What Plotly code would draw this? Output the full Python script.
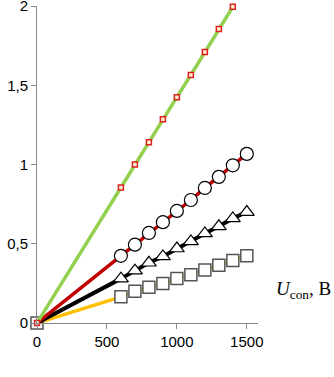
import plotly.graph_objects as go

# Data
U = [600, 700, 800, 900, 1000, 1100, 1200, 1300, 1400, 1500]
U_green = [600, 700, 800, 900, 1000, 1100, 1200, 1300, 1400]
green_vals = [0.855, 1.0, 1.14, 1.285, 1.425, 1.565, 1.71, 1.855, 1.995]
circle_vals = [0.424, 0.494, 0.568, 0.636, 0.707, 0.776, 0.852, 0.922, 0.995, 1.067]
triangle_vals = [0.28, 0.33, 0.38, 0.42, 0.47, 0.515, 0.565, 0.61, 0.66, 0.70]
square_vals = [0.165, 0.20, 0.225, 0.25, 0.28, 0.305, 0.335, 0.365, 0.395, 0.425]
x_ticks = [0, 500, 1000, 1500]
y_ticks = [0, 0.5, 1, 1.5, 2]
y_labels = ["0", "0,5", "1", "1,5", "2"]

fig = go.Figure()

def series(xs, ys, color, lw, symbol, size, fill, lcolor, lwm, origin_marker=False, seg_w=None):
    fig.add_trace(go.Scatter(x=[0, xs[0]], y=[0, ys[0]], mode="lines",
                             line=dict(color=color, width=lw), showlegend=False,
                             hoverinfo="skip", cliponaxis=False))
    fig.add_trace(go.Scatter(x=xs, y=ys, mode="lines+markers",
                             line=dict(color=color, width=seg_w if seg_w else lw),
                             marker=dict(symbol=symbol, size=size, color=fill,
                                         line=dict(color=lcolor, width=lwm)),
                             showlegend=False, cliponaxis=False))
    if origin_marker:
        fig.add_trace(go.Scatter(x=[0], y=[0], mode="markers",
                                 marker=dict(symbol=symbol, size=size, color="rgba(0,0,0,0)",
                                             line=dict(color=lcolor, width=lwm)),
                                 showlegend=False, cliponaxis=False))

series(U, square_vals, "#FFC000", 3.5, "square", 12, "white", "#555555", 1.5,
       origin_marker=True, seg_w=2)
series(U, triangle_vals, "black", 4, "triangle-up", 13, "white", "black", 1.2)
series(U, circle_vals, "#C00000", 3.5, "circle", 13, "white", "black", 1.2)
series(U_green, green_vals, "#92D050", 3.5, "square", 5, "#FFF2CC", "#E02020", 1.5)
fig.add_trace(go.Scatter(x=[0], y=[0], mode="markers",
                         marker=dict(symbol="square", size=5, color="#FFF2CC",
                                     line=dict(color="#E02020", width=1.5)),
                         showlegend=False, cliponaxis=False))

fig.update_layout(
    width=334, height=377,
    margin=dict(l=37, r=76, t=6, b=54),
    plot_bgcolor="white", paper_bgcolor="white",
    font=dict(family="Liberation Sans, Arial", size=15, color="black"),
    xaxis=dict(range=[0, 1580], tickvals=x_ticks, showgrid=False, zeroline=False,
               showline=True, linecolor="#888888", linewidth=1, automargin=False,
               ticks="outside", ticklen=5, tickcolor="#888888"),
    yaxis=dict(range=[0, 2], tickvals=y_ticks, ticktext=y_labels, showgrid=False,
               zeroline=False, showline=True, linecolor="#888888", linewidth=1,
               automargin=False, ticks="outside", ticklen=5, tickcolor="#888888",
               ticklabeloverflow="allow"),
    annotations=[
        dict(text="<i>U</i><sub>con</sub>, B", xref="paper", yref="paper",
             x=(333 - 37) / 221, y=0.105, xanchor="right", yanchor="middle",
             showarrow=False,
             font=dict(family="Liberation Serif, Times New Roman", size=19, color="black")),
        dict(text="а", xref="paper", yref="paper", x=0.46, y=-0.145,
             xanchor="center", yanchor="top", showarrow=False,
             font=dict(family="Liberation Serif, Times New Roman", size=18, color="black")),
    ],
)

fig.write_html("out.html", config={"displayModeBar": False},
               post_script="document.body.style.margin='0';document.body.style.overflow='hidden';")
